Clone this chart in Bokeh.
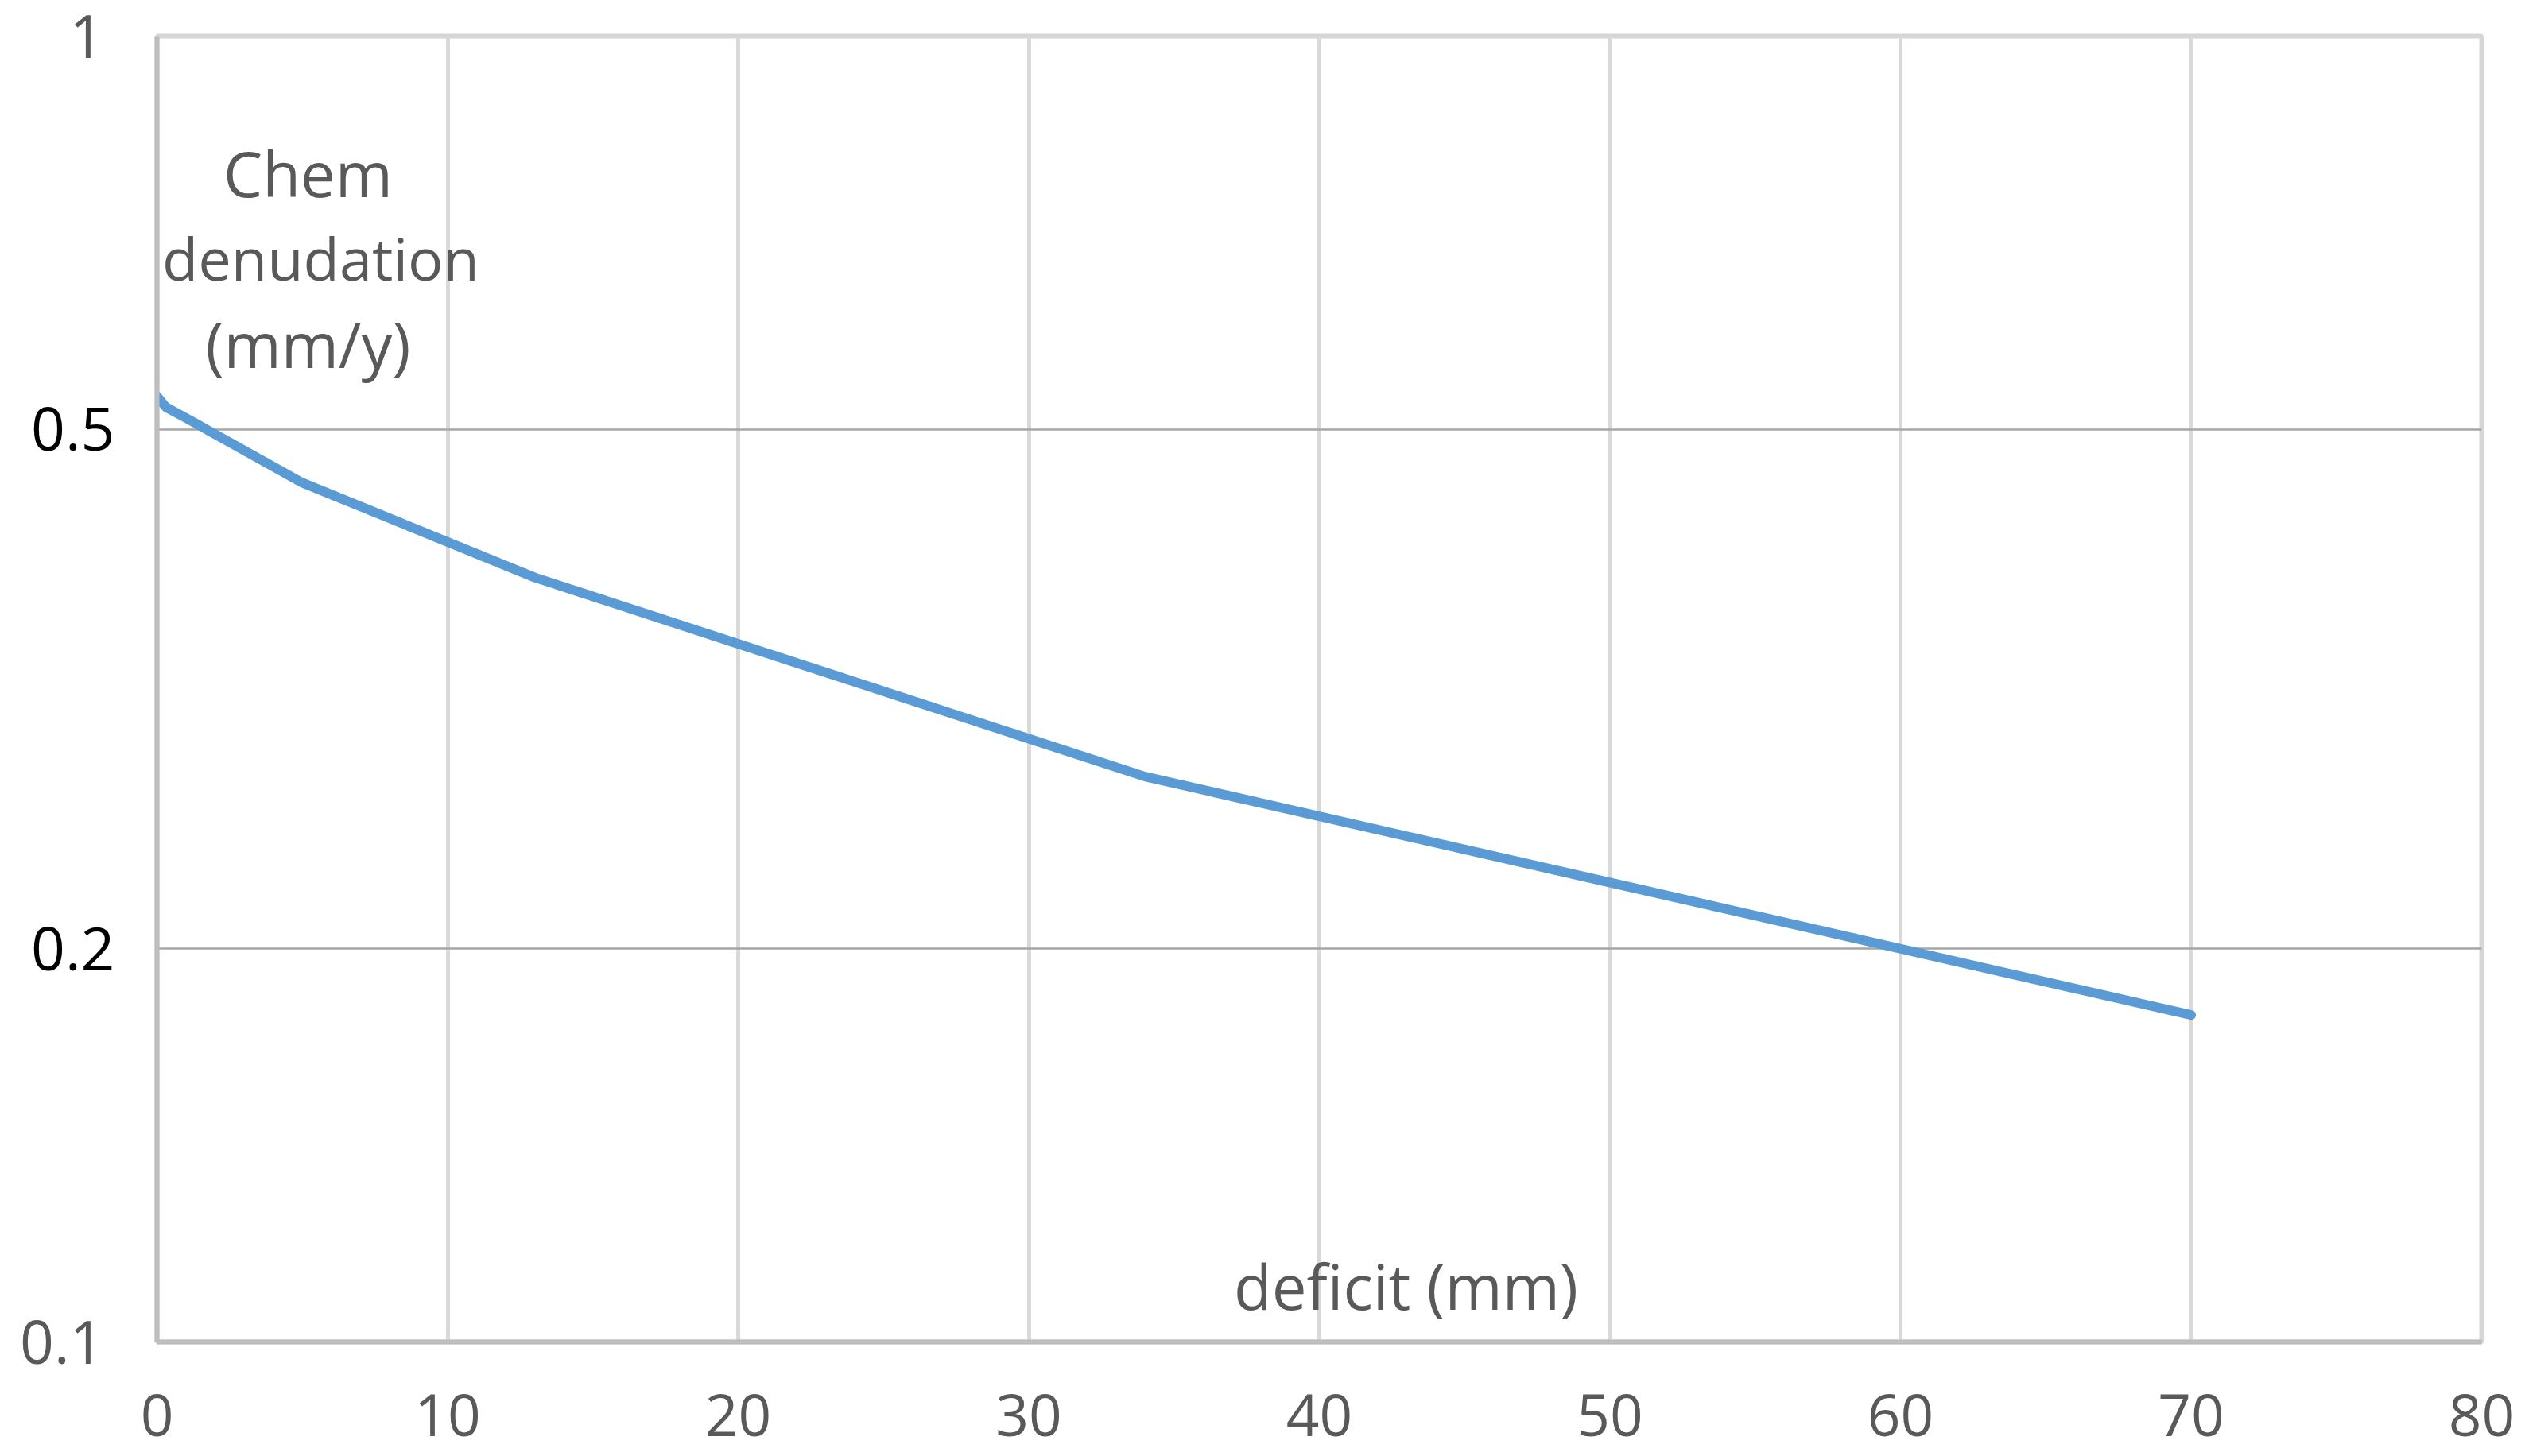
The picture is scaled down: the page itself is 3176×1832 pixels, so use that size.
from bokeh.plotting import figure
from bokeh.models import FixedTicker, BasicTickFormatter, Label, LogAxis
from bokeh.embed import file_html
from bokeh.resources import INLINE

# Chemical denudation rate against water deficit
deficit = [0, 0.3, 1, 5, 13, 34, 70]
denudation = [0.53, 0.52, 0.51, 0.455, 0.385, 0.271, 0.178]

x_ticks = [0, 10, 20, 30, 40, 50, 60, 70, 80]
y_ticks_grey = [0.1, 1]
y_ticks_black = [0.2, 0.5]

FONT = "Open Sans"
GREY_TEXT = "#595959"
TICK_SIZE = "75px"

p = figure(
    width=3176, height=1832,
    x_range=(0, 80), y_range=(0.1, 1),
    y_axis_type="log",
    output_backend="svg", toolbar_location=None,
    min_border_left=197, min_border_right=55,
    min_border_top=45, min_border_bottom=144,
)
p.background_fill_color = "white"
p.border_fill_color = "white"
p.outline_line_color = "#d6d6d6"
p.outline_line_width = 6

# x axis
xa = p.xaxis[0]
xa.ticker = FixedTicker(ticks=x_ticks)
xa.axis_line_color = "#bdbdbd"
xa.axis_line_width = 6
xa.major_tick_line_color = None
xa.minor_tick_line_color = None
xa.major_tick_out = 0
xa.major_tick_in = 0
xa.major_label_standoff = 65
xa.major_label_text_font = FONT
xa.major_label_text_font_size = "73px"
xa.major_label_text_color = GREY_TEXT

# inner y axis: 0.2 and 0.5 in black
ya = p.yaxis[0]
ya.ticker = FixedTicker(ticks=y_ticks_black)
ya.formatter = BasicTickFormatter()
ya.axis_line_color = "#bdbdbd"
ya.axis_line_width = 6
ya.major_tick_line_color = None
ya.minor_tick_line_color = None
ya.major_tick_out = 0
ya.major_tick_in = 0
ya.major_label_standoff = 53
ya.major_label_text_font = FONT
ya.major_label_text_font_size = TICK_SIZE
ya.major_label_text_color = "black"

# outer y axis: decade ends in grey
ya2 = LogAxis(ticker=FixedTicker(ticks=y_ticks_grey), formatter=BasicTickFormatter())
ya2.axis_line_color = None
ya2.major_tick_line_color = None
ya2.minor_tick_line_color = None
ya2.major_tick_out = 0
ya2.major_tick_in = 0
ya2.major_label_standoff = -94
ya2.major_label_text_font = FONT
ya2.major_label_text_font_size = TICK_SIZE
ya2.major_label_text_color = GREY_TEXT
p.add_layout(ya2, "left")

# grids
p.xgrid[0].ticker = FixedTicker(ticks=x_ticks[1:-1])
p.xgrid[0].grid_line_color = "#d9d9d9"
p.xgrid[0].grid_line_width = 5
p.ygrid[0].ticker = FixedTicker(ticks=y_ticks_black)
p.ygrid[0].grid_line_color = "#a6a6a6"
p.ygrid[0].grid_line_width = 2.5

# data line
p.line(deficit, denudation, line_color="#5b9bd5", line_width=12,
       line_join="round", line_cap="round")

# axis titles inside the plot area (screen units are frame-relative)
for txt, xx, yy, size in zip(["Chem", "denudation", "(mm/y)"],
                             [190, 206, 190], [1471, 1364, 1256],
                             ["78px", "74px", "78px"]):
    p.add_layout(Label(
        x=xx, y=yy, x_units="screen", y_units="screen",
        text=txt, text_align="center", text_baseline="middle",
        text_font=FONT, text_font_size=size, text_color=GREY_TEXT,
    ))

p.add_layout(Label(
    x=1571, y=71, x_units="screen", y_units="screen",
    text="deficit (mm)", text_align="center", text_baseline="middle",
    text_font=FONT, text_font_size="78px", text_color=GREY_TEXT,
))

open("out.html", "w").write(file_html(p, INLINE))
